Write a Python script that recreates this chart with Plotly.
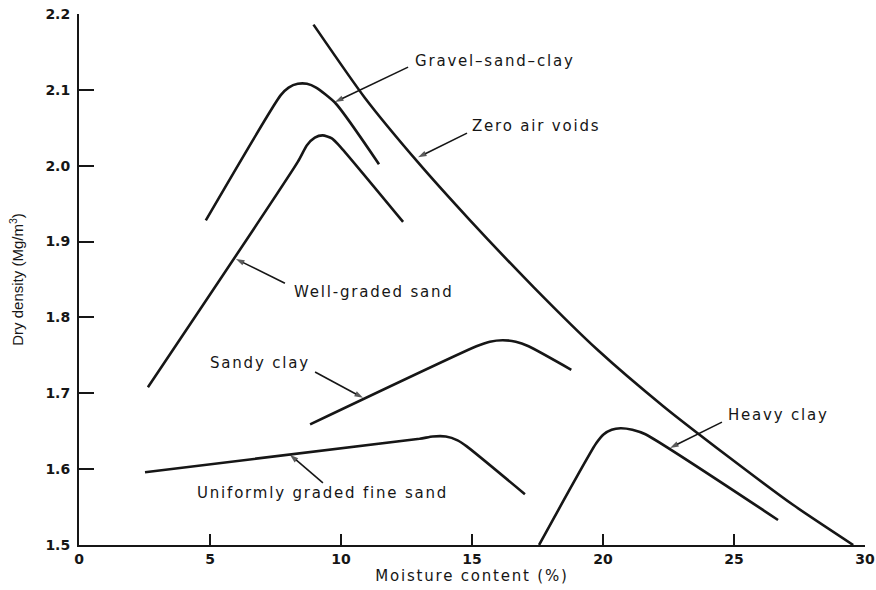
import plotly.graph_objects as go

# Compaction curves: moisture content (%) vs dry density (Mg/m3)
zav_w = [8.95, 10.9, 12.9, 14.9, 17.35, 19.8, 22.3, 24.8, 27.25, 29.55]
zav_rho = [2.186, 2.090, 2.006, 1.929, 1.840, 1.757, 1.683, 1.616, 1.553, 1.500]

gravel_w = [4.84, 7.7, 8.0, 8.35, 8.7, 9.05, 9.8, 11.45]
gravel_rho = [1.928, 2.093, 2.103, 2.108, 2.108, 2.103, 2.082, 2.002]

wellsand_w = [2.63, 8.35, 8.7, 9.0, 9.3, 9.65, 10.0, 12.37]
wellsand_rho = [1.708, 2.005, 2.027, 2.037, 2.040, 2.036, 2.024, 1.926]

sandyclay_w = [8.82, 15.17, 15.68, 16.17, 16.67, 17.16, 18.79]
sandyclay_rho = [1.659, 1.762, 1.768, 1.770, 1.768, 1.762, 1.731]

finesand_w = [2.52, 13.0, 13.5, 14.0, 14.45, 14.8, 17.02]
finesand_rho = [1.596, 1.640, 1.643, 1.643, 1.638, 1.630, 1.567]

heavyclay_w = [17.56, 19.74, 20.03, 20.33, 20.67, 21.12, 21.62, 26.68]
heavyclay_rho = [1.500, 1.634, 1.646, 1.652, 1.654, 1.652, 1.646, 1.533]

x_ticks = [0, 5, 10, 15, 20, 25, 30]
y_ticks = [1.5, 1.6, 1.7, 1.8, 1.9, 2.0, 2.1, 2.2]

# label text, label anchor (w, rho), arrow tail (w, rho), arrow tip (w, rho)
labels = [
    ("Gravel\u2013sand\u2013clay", (12.75, 2.138), (12.56, 2.130), (9.77, 2.084)),
    ("Zero air voids", (14.92, 2.052), (14.81, 2.043), (12.94, 2.011)),
    ("Well-graded sand", (8.13, 1.8335), (7.86, 1.845), (5.99, 1.877)),
    ("Sandy clay", (4.92, 1.740), (9.01, 1.728), (10.84, 1.694)),
    ("Uniformly graded fine sand", (4.43, 1.5685), (9.31, 1.582), (8.05, 1.619)),
    ("Heavy clay", (24.69, 1.671), (24.54, 1.662), (22.56, 1.628)),
]

series = [
    (zav_w, zav_rho),
    (gravel_w, gravel_rho),
    (wellsand_w, wellsand_rho),
    (sandyclay_w, sandyclay_rho),
    (finesand_w, finesand_rho),
    (heavyclay_w, heavyclay_rho),
]

INK = "#161616"


def spaced(text, px=1.8):
    return f'<span style="letter-spacing:{px}px">{text}</span>'


fig = go.Figure()
for w, rho in series:
    fig.add_trace(go.Scatter(
        x=w, y=rho, mode="lines",
        line=dict(color=INK, width=2.6, shape="spline", smoothing=0.6),
        showlegend=False, hoverinfo="skip",
    ))

# leader arrows from each label to its curve
for _, _, (ax, ay), (hx, hy) in labels:
    fig.add_trace(go.Scatter(
        x=[ax, hx], y=[ay, hy], mode="lines+markers",
        line=dict(color=INK, width=1.6),
        marker=dict(symbol=["circle", "arrow"], size=[0, 9],
                    angleref="previous", color=INK, line=dict(width=0)),
        showlegend=False, hoverinfo="skip",
    ))

label_font = dict(family="DejaVu Sans", size=15, color=INK)
for text, (tx, ty), _, _ in labels:
    fig.add_annotation(
        x=tx, y=ty, text=spaced(text), showarrow=False,
        xanchor="left", yanchor="middle", font=label_font,
    )

tick_font = dict(family="DejaVu Sans", size=14, color=INK, weight="bold")

fig.update_xaxes(
    range=[0, 30], tickvals=x_ticks, ticks="inside", ticklen=11,
    tickwidth=2, tickcolor=INK, showline=True, linewidth=2,
    linecolor=INK, showgrid=False, zeroline=False,
    tickfont=tick_font,
    title=dict(text=spaced("Moisture content (%)"),
               font=dict(family="DejaVu Sans", size=15, color=INK),
               standoff=4),
)
fig.update_yaxes(
    range=[1.5, 2.2], tickvals=y_ticks, tickformat=".1f", ticks="inside",
    ticklen=15, tickwidth=2, tickcolor=INK, showline=True,
    linewidth=2, linecolor=INK, showgrid=False, zeroline=False,
    tickfont=tick_font, ticklabelstandoff=4,
    title=dict(text="Dry density (Mg/m<sup>3</sup>)",
               font=dict(family="Liberation Sans Narrow, Liberation Sans", size=15,
                         color=INK),
               standoff=18),
)

fig.update_layout(
    width=876, height=590,
    margin=dict(l=79, r=11, t=14, b=45, autoexpand=False),
    paper_bgcolor="white", plot_bgcolor="white",
)

fig.write_html("out.html")
